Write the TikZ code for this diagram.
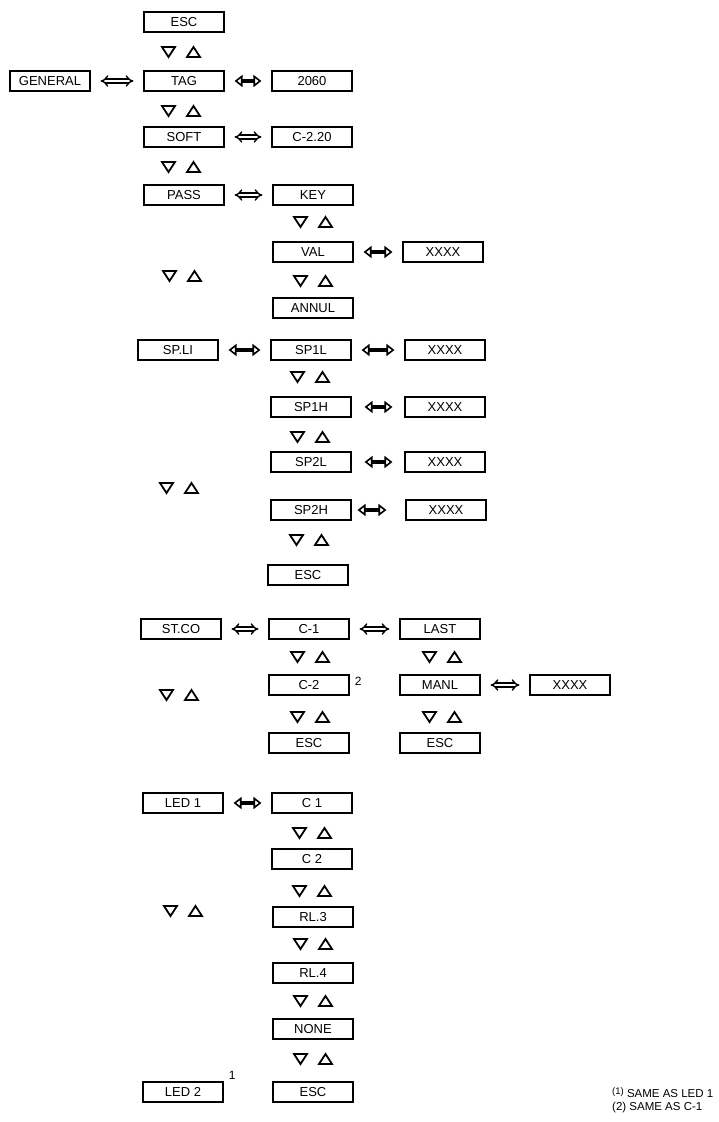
\documentclass[tikz,border=0pt]{standalone}
\usepackage{fontspec}
\setmainfont{Liberation Sans}
\usetikzlibrary{arrows.meta, positioning}
\tikzset{
	menu/.style   ={rectangle, draw=black, line width=1.1pt, minimum width=80pt, minimum height=20pt, inner sep=0pt, text centered, font=\fontsize{13}{15}\selectfont},
	dbl/.style    ={double, double distance=2.4pt, line width=1.4pt, {Implies[scale=1.5]}-{Implies[scale=1.5]}, shorten <=10pt, shorten >=10pt},
	fat/.style    ={line width=3.2pt, {Triangle[open, line width=1.6pt, length=8pt, width=12pt]}-{Triangle[open, line width=1.6pt, length=8pt, width=12pt]}, shorten <=10pt, shorten >=10pt},
	updown/.pic   ={
		\draw[line width=1.8pt] (-19,-5) -- (-6,-5) -- (-12.5,5) -- cycle;
		\draw[line width=1.8pt] (6,5) -- (19,5) -- (12.5,-5) -- cycle;
	},
}
\begin{document}
\begin{tikzpicture}[x=1pt, y=-1pt]
	\useasboundingbox (0,0) rectangle (719,1122);
	% general
	\node[menu] (esc0)    at (184,22)  {ESC};
	\node[menu] (general) at (50,81)   {GENERAL};
	\node[menu] (tag)     at (184,81)  {TAG};
	\node[menu] (tagval)  at (312,81)  {2060};
	\node[menu] (soft)    at (184,137) {SOFT};
	\node[menu] (softval) at (312,137) {C-2.20};
	\node[menu] (pass)    at (184,195) {PASS};
	\node[menu] (key)     at (313,195) {KEY};
	\node[menu] (val)     at (313,252) {VAL};
	\node[menu] (valx)    at (443,252) {XXXX};
	\node[menu] (annul)   at (313,308) {ANNUL};
	\pic at (181,52)  {updown};
	\pic at (181,111) {updown};
	\pic at (181,167) {updown};
	\pic at (313,222) {updown};
	\pic at (313,281) {updown};
	\pic at (182,276) {updown};
	\draw[dbl] (general) -- (tag);
	\draw[fat] (tag) -- (tagval);
	\draw[dbl] (soft) -- (softval);
	\draw[dbl] (pass) -- (key);
	\draw[fat] (val) -- (valx);
	% set points
	\node[menu] (spli)  at (178,350) {SP.LI};
	\node[menu] (spl1)  at (311,350) {SP1L};
	\node[menu] (spl1x) at (445,350) {XXXX};
	\node[menu] (sph1)  at (311,407) {SP1H};
	\node[menu] (sph1x) at (445,407) {XXXX};
	\node[menu] (spl2)  at (311,462) {SP2L};
	\node[menu] (spl2x) at (445,462) {XXXX};
	\node[menu] (sph2)  at (311,510) {SP2H};
	\node[menu] (sph2x) at (446,510) {XXXX};
	\node[menu] (escsp) at (308,575) {ESC};
	\pic at (310,377) {updown};
	\pic at (310,437) {updown};
	\pic at (309,540) {updown};
	\pic at (179,488) {updown};
	\draw[fat] (spli) -- (spl1);
	\draw[fat] (spl1) -- (spl1x);
	\draw[fat, shorten <=13pt, shorten >=12pt] (sph1) -- (sph1x);
	\draw[fat, shorten <=13pt, shorten >=12pt] (spl2) -- (spl2x);
	\draw[fat, shorten <=6pt, shorten >=19pt] (sph2) -- (sph2x);
	% counters
	\node[menu] (stco)    at (181,629) {ST.CO};
	\node[menu] (cone)    at (309,629) {C-1};
	\node[menu] (last)    at (440,629) {LAST};
	\node[menu] (ctwo)    at (309,685) {C-2};
	\node[menu] (manl)    at (440,685) {MANL};
	\node[menu] (manlx)   at (570,685) {XXXX};
	\node[menu] (escc)    at (309,743) {ESC};
	\node[menu] (esclast) at (440,743) {ESC};
	\node[anchor=north west, inner sep=0pt, font=\fontsize{12}{13}\selectfont] (ctwonote) at ([xshift=5pt, yshift=-2pt]ctwo.north east) {2};
	\pic at (310,657) {updown};
	\pic at (442,657) {updown};
	\pic at (310,717) {updown};
	\pic at (442,717) {updown};
	\pic at (179,695) {updown};
	\draw[dbl] (stco) -- (cone);
	\draw[dbl] (cone) -- (last);
	\draw[dbl] (manl) -- (manlx);
	% leds
	\node[menu] (ledone)  at (183,803)  {LED 1};
	\node[menu] (cled1)   at (312,803)  {C 1};
	\node[menu] (cled2)   at (312,859)  {C 2};
	\node[menu] (rlthree) at (313,917)  {RL.3};
	\node[menu] (rlfour)  at (313,973)  {RL.4};
	\node[menu] (nonel)   at (313,1029) {NONE};
	\node[menu] (escled)  at (313,1092) {ESC};
	\node[menu] (ledtwo)  at (183,1092) {LED 2};
	\node[anchor=south west, inner sep=0pt, font=\fontsize{12}{13}\selectfont] (ledtwonote) at ([xshift=5pt, yshift=2pt]ledtwo.north east) {1};
	\pic at (312,833)  {updown};
	\pic at (312,891)  {updown};
	\pic at (313,944)  {updown};
	\pic at (313,1001) {updown};
	\pic at (313,1059) {updown};
	\pic at (183,911)  {updown};
	\draw[fat] (ledone) -- (cled1);
	% notes
	\node[anchor=west, inner sep=0pt, font=\fontsize{11.5}{13}\selectfont] (note1) at (612,1093) {\raisebox{3pt}{\fontsize{9.5}{11}\selectfont(1)} SAME AS LED 1};
	\node[anchor=west, inner sep=0pt, font=\fontsize{11.5}{13}\selectfont] (note2) at (612,1108) {(2) SAME AS C-1};
\end{tikzpicture}
\end{document}
